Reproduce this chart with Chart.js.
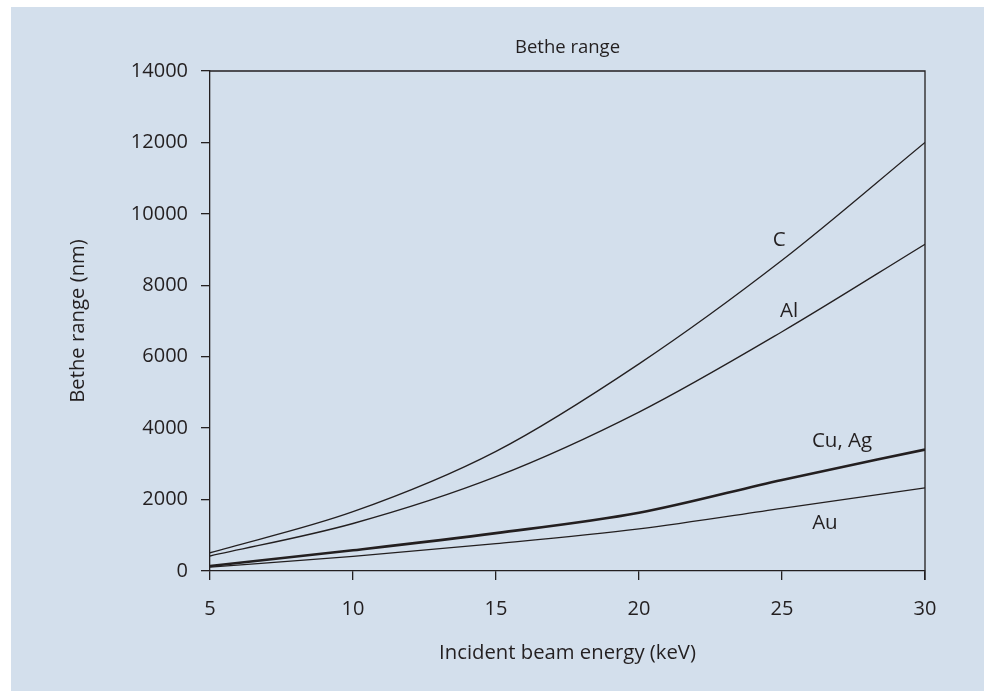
<!DOCTYPE html>
<html>
<head>
<meta charset="utf-8">
<script src="https://cdn.jsdelivr.net/npm/chart.js@4.4.1/dist/chart.umd.min.js"></script>
<style>
  html, body { margin: 0; padding: 0; background: #ffffff; }
  #wrap { position: absolute; left: 11px; top: 7px; width: 973px; height: 684px; background: #d3dfec; }
  canvas { display: block; }
</style>
</head>
<body>
<div id="wrap"><canvas id="c" width="973" height="684"></canvas></div>
<script>
// ---- data ----
const chartTitle = 'Bethe range';
const xTitle = 'Incident beam energy (keV)';
const yTitle = 'Bethe range (nm)';
const energy = [5, 10, 15, 20, 25, 30];            // keV
const rangeC    = [510, 1660, 3350, 5800, 8700, 12000];
const rangeAl   = [420, 1330, 2640, 4450, 6700, 9150];
const rangeCuAg = [140, 580, 1060, 1630, 2550, 3400];
const rangeAu   = [110, 410, 765, 1180, 1755, 2330];
const seriesNames = ['C', 'Al', 'Cu, Ag', 'Au'];
// curve labels, in data coordinates (keV, nm)
const labelX = [24.9, 25.25, 27.1, 26.5];
const labelY = [9270, 7280, 3640, 1340];

const ink = '#231f20';
const fontFamily = '"Open Sans", "Noto Sans", sans-serif';
const toPts = ys => energy.map((e, i) => ({x: e, y: ys[i]}));

const extras = {
  id: 'extras',
  afterDatasetsDraw(chart) {
    const {ctx, chartArea: a, scales: {x, y}} = chart;
    ctx.save();
    // frame top/right
    ctx.strokeStyle = ink;
    ctx.lineWidth = 1.3;
    ctx.beginPath();
    ctx.moveTo(a.left, a.top);
    ctx.lineTo(a.right, a.top);
    ctx.lineTo(a.right, a.bottom + 9);
    ctx.stroke();
    // title
    ctx.fillStyle = ink;
    ctx.font = '18.5px ' + fontFamily;
    ctx.textAlign = 'center';
    ctx.textBaseline = 'middle';
    ctx.fillText(chartTitle, (a.left + a.right) / 2, 41);
    // curve labels
    ctx.font = '20.5px ' + fontFamily;
    seriesNames.forEach((n, i) => {
      ctx.fillText(n, x.getPixelForValue(labelX[i]), y.getPixelForValue(labelY[i]));
    });
    ctx.restore();
  }
};

const ds = (label, ys, w) => ({
  label, data: toPts(ys), borderColor: ink, borderWidth: w,
  pointRadius: 0, fill: false, cubicInterpolationMode: 'monotone'
});

new Chart(document.getElementById('c'), {
  type: 'line',
  data: {
    datasets: [
      ds(seriesNames[0], rangeC, 1.3),
      ds(seriesNames[1], rangeAl, 1.3),
      ds(seriesNames[2], rangeCuAg, 2.6),
      ds(seriesNames[3], rangeAu, 1.3)
    ]
  },
  options: {
    responsive: false,
    animation: false,
    layout: { padding: { top: 64, right: 59, left: 0, bottom: 0 } },
    plugins: { legend: { display: false }, tooltip: { enabled: false }, title: { display: false } },
    scales: {
      x: {
        type: 'linear', min: 5, max: 30,
        afterFit(s) { s.height = 120; },
        ticks: { stepSize: 5, padding: 17, color: ink, font: { family: fontFamily, size: 20 },
                 callback: v => String(v) },
        grid: { drawOnChartArea: false, tickLength: 9, color: ink, lineWidth: 1.3 },
        border: { color: ink, width: 1.3 },
        title: { display: true, text: xTitle, color: ink, font: { family: fontFamily, size: 20.3 }, padding: { top: 0, bottom: 26 } }
      },
      y: {
        min: 0, max: 14000,
        afterFit(s) { s.width = 199; },
        ticks: { stepSize: 2000, padding: 13, color: ink, font: { family: fontFamily, size: 20 },
                 callback: v => String(v) },
        grid: { drawOnChartArea: false, tickLength: 9, color: ink, lineWidth: 1.3 },
        border: { color: ink, width: 1.3 },
        title: { display: true, text: yTitle, color: ink, font: { family: fontFamily, size: 20.3 }, padding: { top: 55, bottom: 0 } }
      }
    }
  },
  plugins: [extras]
});
</script>
</body>
</html>
